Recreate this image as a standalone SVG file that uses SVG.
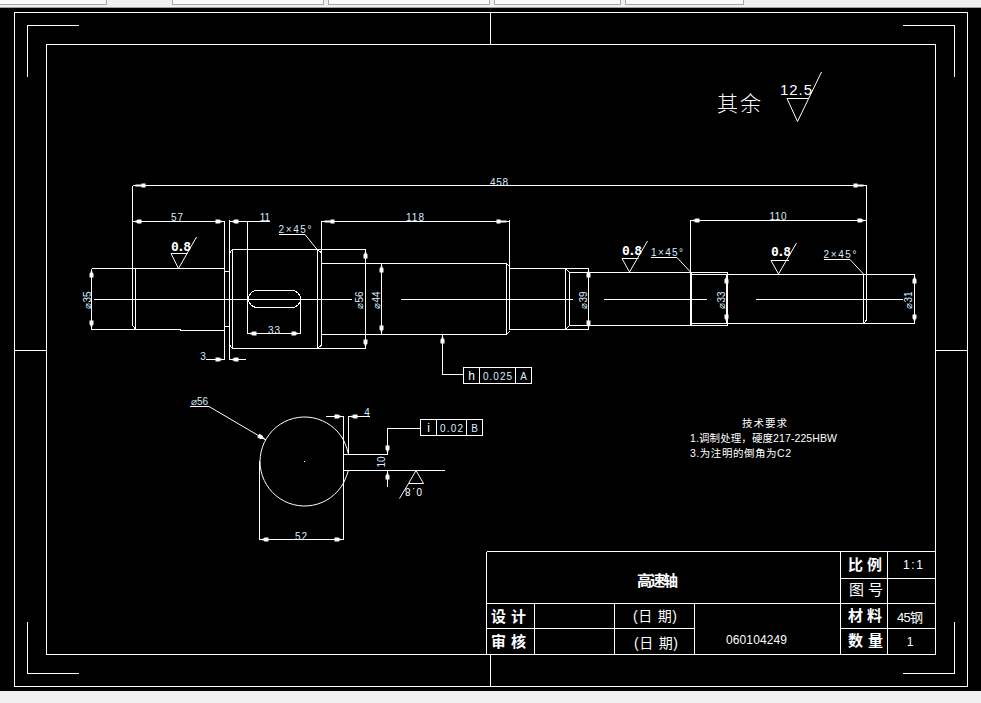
<svg xmlns="http://www.w3.org/2000/svg" width="981" height="703" viewBox="0 0 981 703">
<style>
.l{fill:none;stroke:#fff;stroke-width:1;shape-rendering:crispEdges}
.d{fill:none;stroke:#fff;stroke-width:1;shape-rendering:crispEdges;marker-end:url(#a)}
.dd{fill:none;stroke:#fff;stroke-width:1;shape-rendering:crispEdges;marker-start:url(#a);marker-end:url(#a)}
.dl{fill:none;stroke:#fff;stroke-width:1;shape-rendering:crispEdges;marker-start:url(#b);marker-end:url(#b)}
.s{fill:none;stroke:#fff;stroke-width:1}
.f{fill:#fafafa;stroke:#a8a8a8;stroke-width:1;shape-rendering:crispEdges}
text{font-family:"Liberation Sans","Noto Sans CJK SC",sans-serif}
.t{font-size:10px;fill:#d8ecff;text-anchor:middle}
.r{font-size:13px;fill:#fff;font-weight:bold;font-family:"DejaVu Sans Mono","Noto Sans CJK SC",monospace}
.c{font-family:"Noto Sans CJK SC",sans-serif;fill:#fff}
.h{font-size:15px;font-weight:700}
.n{font-size:12px;fill:#fff;text-anchor:middle}
</style>
<defs>
<marker id="a" viewBox="-1 -3 11 6" refX="9" refY="0" markerWidth="11" markerHeight="6" markerUnits="userSpaceOnUse" orient="auto-start-reverse"><path d="M9,0 L5,-1 L4,-2 L0,-2 L0,2 L4,2 L5,1 Z" fill="#fff"/></marker>
<marker id="b" viewBox="-1 -3 15 6" refX="13" refY="0" markerWidth="15" markerHeight="6" markerUnits="userSpaceOnUse" orient="auto-start-reverse"><path d="M13,0 L9,-1 L4,-1 L4,-2 L0,-2 L0,2 L4,2 L4,1 L9,1 Z" fill="#fff"/></marker>
</defs>
<rect width="981" height="703" fill="#000"/>
<rect width="981" height="8" fill="#f0f0f0"/>
<rect y="7" width="981" height="1" fill="#a0a0a0"/>
<rect class="f" x="-2" y="-2" width="108.500" height="6.500"/>
<rect class="f" x="172.500" y="-2" width="151" height="6.500"/>
<rect class="f" x="328.500" y="-2" width="161" height="6.500"/>
<rect class="f" x="494.500" y="-2" width="126" height="6.500"/>
<rect class="f" x="625.500" y="-2" width="118" height="6.500"/>
<rect y="691" width="981" height="12" fill="#f0f0f0"/>

<g id="frame">
<rect class="l" x="14.500" y="12.500" width="953" height="674"/>
<rect class="l" x="46.500" y="44.500" width="889" height="610"/>
<path class="l" d="M490.500 12.500V44.500M490.500 654.500V686.500M14.500 350.500H46.500M935.500 350.500H967.500"/>
<path class="l" d="M27.500 77V25.500H79M903 25.500H954.500V77M27.500 622V673.500H79M903 673.500H954.500V622"/>
</g>

<g id="shaft">
<path class="l" d="M91.500 268.500H224.500M91.500 329.500H180V330.500H224.500M91.500 268.500V329.500"/>
<path class="l" d="M135.500 268.500V329.500M132.500 185.500V325L135.500 329.500"/>
<path class="l" d="M224.500 221V359.500M229.500 220V359.500M224.500 271.500H229.500M224.500 326.500H229.500"/>
<path class="l" d="M229.500 253L232.500 249.500H365.500V348.500H232.500L229.500 345M232.500 249.500V348.500"/>
<path class="l" d="M317.500 249.500V348.500M321.500 221V345L317.500 348.500M317.500 249.500L321.500 253"/>
<path class="l" d="M321.500 263.500H506.500L509.500 266.500M321.500 334.500H506.500L509.500 331.500M506.500 263.500V334.500"/>
<path class="l" d="M509.500 220V329.500"/>
<path class="l" d="M509.500 268.500H588.500M509.500 329.500H588.500M565.500 268.500V329.500M588.500 268.500V329.500"/>
<path class="l" d="M565.500 268.500L569.500 272.500V325.500L565.500 329.500"/>
<path class="l" d="M569.500 272.500H727.500V325.500H569.500"/>
<path class="l" d="M690.500 220V325.500M691.500 272.500V325.500M691.500 274.500H914.500V323.500H691.500"/>
<path class="l" d="M726.500 274.500V323.500"/>
<path class="l" d="M863.500 274.500V323.500M866.500 185V320L863.500 323.500"/>
<rect class="l" x="248.500" y="290.500" width="52" height="17" rx="8.500"/>
<path class="l" d="M247.500 221V333.500M300.500 299V333.500"/>
<path class="l" d="M94 299.500H352M401 299.500H573M604 299.500H707M756 299.500H903"/>
</g>

<g id="section">
<path class="s" d="M343.500 440 A44.500 44.500 0 1 0 343.500 483"/>
<path class="s" d="M343.500 440 Q346.500 446 348.500 454M343.500 483Q346.500 477 348.500 470"/>
<path class="l" d="M343.500 416V539.500M259.500 461V539.500M348.500 416V454.500M343.500 454.500H387.500M343.500 470.500H445"/>
<rect x="304" y="461" width="1" height="1" fill="#fff"/>
</g>

<g id="connectors">
<path class="dl" d="M132.500 185.500H866.500"/>
<path class="dd" d="M132.500 221.500H224.500"/>
<path class="d" d="M270 221.500H229.500"/>
<path class="dl" d="M321.500 221.500H509.500"/>
<path class="dd" d="M690.500 220.500H866.500"/>
<path class="dd" d="M247.500 333.500H300.500"/>
<path class="d" d="M206 359.500H224.500"/>
<path class="d" d="M246 359.500H229.500"/>
<path class="dd" d="M91.500 268.500V329.500"/>
<path class="dd" d="M365.500 249.500V348.500"/>
<path class="dd" d="M381.500 263.500V334.500"/>
<path class="dd" d="M588.500 268.500V329.500"/>
<path class="dd" d="M726.500 274.500V323.500"/>
<path class="dd" d="M914.500 274.500V323.500"/>
<path class="d" d="M463 374.500H442.500V334.500"/>
<path class="d" d="M420 428.500H387.500V454.500"/>
<path class="d" d="M387.500 487V470.500"/>
<path class="d" d="M326 416.500H343.500"/>
<path class="d" d="M370 416.500H348.500"/>
<path class="dd" d="M259.500 539.500H343.500"/>
<path class="d" d="M190 406.500H209L266 440" style="shape-rendering:auto"/>
<path class="s" d="M279 234.500H305L317.500 250"/>
<path class="s" d="M651 257.500H677L690.500 272"/>
<path class="s" d="M824 259.500H850L863.500 274"/>
</g>

<g id="roughness">
<path class="s" d="M171 253.500H187.500M171 253.500L178.500 268.500L196.500 237"/>
<path class="s" d="M622 258.500H638.500M622 258.500L629.500 272L647.500 241"/>
<path class="s" d="M771 260.500H789M771 260.500L778.500 274L796.500 243"/>
<path class="s" d="M787 98.500H808.500M787 98.500L797.500 121.500L821.500 72"/>
<path class="s" d="M416 470.500L408.500 483.500H423.500ZM408.500 483.500L399.500 498.500"/>
<text class="r" x="171" y="251" textLength="20">0.8</text>
<text class="r" x="622" y="255" textLength="20">0.8</text>
<text class="r" x="771" y="256" textLength="20">0.8</text>
<text font-size="15" fill="#fff" x="780" y="95" textLength="32">12.5</text>
<text font-size="10" fill="#fff" text-anchor="middle" transform="rotate(180 413.500 492)" x="413.500" y="496" textLength="17">0.8</text>
<text class="c" font-size="21" font-weight="300" x="717" y="111" textLength="44">其余</text>
</g>

<g id="fcs">
<rect class="l" x="463.500" y="367.500" width="68" height="16"/>
<path class="l" d="M479.500 367.500V383.500M515.500 367.500V383.500"/>
<text class="n" x="471.500" y="380">h</text>
<text class="t" x="497.500" y="379.500" textLength="29">0.025</text>
<text class="t" x="523.500" y="379.500">A</text>
<rect class="l" x="420.500" y="419.500" width="62" height="16"/>
<path class="l" d="M436.500 419.500V435.500M466.500 419.500V435.500"/>
<text class="n" x="428.500" y="432">i</text>
<text class="t" x="451.500" y="432" textLength="23">0.02</text>
<text class="t" x="474.500" y="432">B</text>
</g>

<g id="labels">
<text class="t" x="499" y="186" textLength="18">458</text>
<text class="t" x="177" y="221" textLength="12">57</text>
<text class="t" x="265" y="221">11</text>
<text class="t" x="415" y="221" textLength="18">118</text>
<text class="t" x="778" y="220" textLength="17">110</text>
<text class="t" x="274" y="334" textLength="12">33</text>
<text class="t" x="203" y="360">3</text>
<text class="t" x="295" y="233" textLength="33">2×45°</text>
<text class="t" x="667" y="256" textLength="32">1×45°</text>
<text class="t" x="840" y="258" textLength="33">2×45°</text>
<text class="t" transform="rotate(-90 91 300)" x="91" y="300">⌀35</text>
<text class="t" transform="rotate(-90 363 300)" x="363" y="300">⌀56</text>
<text class="t" transform="rotate(-90 380 300)" x="380" y="300">⌀44</text>
<text class="t" transform="rotate(-90 587 300)" x="587" y="300">⌀39</text>
<text class="t" transform="rotate(-90 725 300)" x="725" y="300">⌀33</text>
<text class="t" transform="rotate(-90 912 300)" x="912" y="300">⌀31</text>
<text class="t" x="199.500" y="405">⌀56</text>
<text class="t" x="367" y="416">4</text>
<text class="t" x="301" y="540" textLength="12">52</text>
<text class="t" transform="rotate(-90 385 462)" x="385" y="462">10</text>
</g>

<g id="notes" class="c" font-size="10.500">
<text x="742" y="427" textLength="45">技术要求</text>
<text x="690" y="442" textLength="147">1.调制处理，硬度217-225HBW</text>
<text x="690" y="457" textLength="101">3.为注明的倒角为C2</text>
</g>

<g id="titleblock">
<path class="l" d="M486.500 551.500H935.500M486.500 551.500V654.500H935.500M486.500 603.500H935.500M486.500 628.500H694M840 628.500H935.500M840 578.500H935.500"/>
<path class="l" d="M534.500 603.500V654.500M614.500 603.500V654.500M694.500 603.500V654.500M840.500 551.500V654.500M887.500 551.500V654.500"/>
<g class="c">
<text class="h" x="637" y="586" textLength="41">高速轴</text>
<text class="h" x="848" y="570" textLength="34">比 例</text>
<text x="849" y="595" font-size="15" textLength="34">图 号</text>
<text class="h" x="848" y="621" textLength="34">材 料</text>
<text class="h" x="848" y="646" textLength="35">数 量</text>
<text class="h" x="491" y="622" textLength="35">设 计</text>
<text class="h" x="491" y="647" textLength="35">审 核</text>
<text x="633" y="621" font-size="14" textLength="44">(日 期)</text>
<text x="634" y="648" font-size="14" textLength="44">(日 期)</text>
<text x="897" y="622" font-size="13" textLength="26">45钢</text>
</g>
<text class="n" x="913" y="568.500" textLength="20">1:1</text>
<text class="n" x="910" y="646">1</text>
<text class="n" x="756.500" y="644" textLength="61">060104249</text>
</g>
</svg>
